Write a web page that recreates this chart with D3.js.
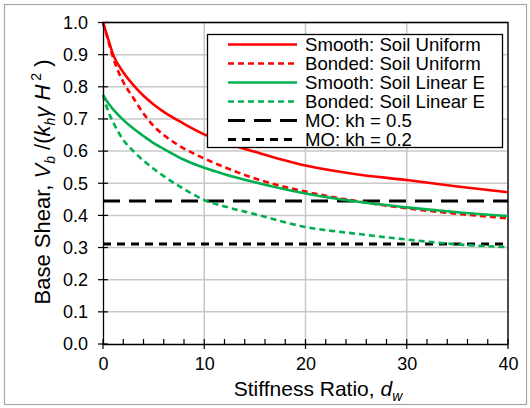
<!DOCTYPE html>
<html>
<head>
<meta charset="utf-8">
<script src="https://cdn.jsdelivr.net/npm/d3@7"></script>
<style>
  body { margin: 0; background: #fff; }
  text { font-family: "Liberation Sans", Arial, sans-serif; fill: #000; }
</style>
</head>
<body>
<div id="chart"></div>
<script>
// stiffness ratio values
var dw = [0, 0.5, 1, 2, 3, 4, 5, 6, 8, 10, 12, 15, 20, 25, 30, 35, 40];

// base shear ratios
var smoothUniform = [1.0, 0.95, 0.9, 0.845, 0.805, 0.772, 0.745, 0.722, 0.685, 0.652, 0.627, 0.598, 0.555, 0.528, 0.51, 0.49, 0.472];
var bondedUniform = [1.0, 0.945, 0.89, 0.815, 0.765, 0.717, 0.678, 0.65, 0.608, 0.577, 0.55, 0.515, 0.474, 0.445, 0.422, 0.405, 0.391];
var smoothLinear = [0.775, 0.75, 0.73, 0.697, 0.67, 0.647, 0.625, 0.607, 0.573, 0.548, 0.528, 0.503, 0.468, 0.443, 0.425, 0.41, 0.398];
var bondedLinear = [0.775, 0.725, 0.69, 0.635, 0.6, 0.57, 0.545, 0.522, 0.482, 0.448, 0.428, 0.404, 0.364, 0.343, 0.325, 0.31, 0.301];
var moValues = [0.445, 0.311];

var xTicks = [0, 10, 20, 30, 40];
var yTicks = [0, 0.1, 0.2, 0.3, 0.4, 0.5, 0.6, 0.7, 0.8, 0.9, 1.0];

var series = [
    { name: "Smooth: Soil Uniform", vals: smoothUniform, color: "#ff0000", dash: null },
    { name: "Bonded: Soil Uniform", vals: bondedUniform, color: "#ff0000", dash: "6,4" },
    { name: "Smooth: Soil Linear E", vals: smoothLinear, color: "#00b050", dash: null },
    { name: "Bonded: Soil Linear E", vals: bondedLinear, color: "#00b050", dash: "6,4" }
];
var moLines = [
    { name: "MO: kh = 0.5", val: moValues[0], dash: "17,9" },
    { name: "MO: kh = 0.2", val: moValues[1], dash: "8,6" }
];

var svg = d3.select("#chart").append("svg")
    .attr("width", 530)
    .attr("height", 408);

// outer frame
svg.append("rect")
    .attr("x", 4.5).attr("y", 4.5)
    .attr("width", 522).attr("height", 400)
    .attr("fill", "#fff")
    .attr("stroke", "#a6a6a6")
    .attr("stroke-width", 1.2);

var pLeft = 103, pRight = 508, pTop = 22.5, pBottom = 344;

var x = d3.scaleLinear().domain([0, 40]).range([pLeft, pRight]);
var y = d3.scaleLinear().domain([0, 1]).range([pBottom, pTop]);

// gridlines
svg.append("g")
    .selectAll("line")
    .data(yTicks.slice(1))
    .enter().append("line")
    .attr("x1", pLeft).attr("x2", pRight)
    .attr("y1", function(d) { return y(d); })
    .attr("y2", function(d) { return y(d); })
    .attr("stroke", "#c8c8c8")
    .attr("stroke-width", 1.5);

svg.append("g")
    .selectAll("line")
    .data(xTicks.slice(1))
    .enter().append("line")
    .attr("x1", function(d) { return x(d); })
    .attr("x2", function(d) { return x(d); })
    .attr("y1", pTop).attr("y2", pBottom)
    .attr("stroke", "#c8c8c8")
    .attr("stroke-width", 1.5);

// plot frame top/right
svg.append("path")
    .attr("d", "M" + pLeft + "," + pTop + "H" + pRight + "V" + pBottom)
    .attr("fill", "none")
    .attr("stroke", "#000")
    .attr("stroke-width", 1.3);

// MO horizontal lines
moLines.forEach(function(m) {
    svg.append("line")
        .attr("x1", x(0)).attr("x2", x(40))
        .attr("y1", y(m.val)).attr("y2", y(m.val))
        .attr("stroke", "#000")
        .attr("stroke-width", 3)
        .attr("stroke-dasharray", m.dash);
});

var line = d3.line()
    .x(function(d, i) { return x(dw[i]); })
    .y(function(d) { return y(d); })
    .curve(d3.curveMonotoneX);

series.forEach(function(s) {
    svg.append("path")
        .datum(s.vals)
        .attr("d", line)
        .attr("fill", "none")
        .attr("stroke", s.color)
        .attr("stroke-width", 2.6)
        .attr("stroke-dasharray", s.dash);
});

// axes
var xAxis = d3.axisBottom(x).tickValues(xTicks).tickFormat(d3.format("d")).tickSize(0).tickPadding(13);
var gx = svg.append("g").attr("transform", "translate(0," + pBottom + ")").call(xAxis);
gx.select(".domain").attr("stroke", "#000").attr("stroke-width", 1.3);
gx.selectAll("text").style("font-size", "18px").style("font-family", "Liberation Sans, Arial, sans-serif");

// x ticks: minor every 2 inside, major crossing
d3.range(0, 41, 2).forEach(function(d) {
    var major = d % 10 === 0;
    svg.append("line")
        .attr("x1", x(d)).attr("x2", x(d))
        .attr("y1", pBottom - 5).attr("y2", major ? pBottom + 5 : pBottom)
        .attr("stroke", "#000").attr("stroke-width", 1.2);
});

var yAxis = d3.axisLeft(y).tickValues(yTicks).tickFormat(d3.format(".1f")).tickSize(0).tickPadding(15);
var gy = svg.append("g").attr("transform", "translate(" + pLeft + ",0)").call(yAxis);
gy.select(".domain").attr("stroke", "#000").attr("stroke-width", 1.3);
gy.selectAll("text").style("font-size", "18px").style("font-family", "Liberation Sans, Arial, sans-serif");

yTicks.forEach(function(d) {
    svg.append("line")
        .attr("x1", pLeft - 5).attr("x2", pLeft + 5)
        .attr("y1", y(d)).attr("y2", y(d))
        .attr("stroke", "#000").attr("stroke-width", 1.2);
});

// axis titles
var xt = svg.append("text")
    .attr("x", 318).attr("y", 396)
    .attr("text-anchor", "middle")
    .style("font-size", "21px");
xt.append("tspan").text("Stiffness Ratio, ");
xt.append("tspan").style("font-style", "italic").text("d");
xt.append("tspan").style("font-style", "italic").style("font-size", "14px").attr("dy", 5).text("w");

var yt = svg.append("text")
    .attr("transform", "translate(50,182) rotate(-90)")
    .attr("text-anchor", "middle")
    .style("font-size", "22px");
yt.append("tspan").text("Base Shear,  ");
yt.append("tspan").style("font-style", "italic").text("V");
yt.append("tspan").style("font-style", "italic").style("font-size", "14px").attr("dy", 5).text("b");
yt.append("tspan").attr("dy", -5).text(" /(");
yt.append("tspan").style("font-style", "italic").text("k");
yt.append("tspan").style("font-style", "italic").style("font-size", "14px").attr("dy", 5).text("h");
yt.append("tspan").style("font-style", "italic").attr("dy", -5).text("\u03b3 H");
yt.append("tspan").style("font-size", "14px").attr("dy", -9).text("\u00a02");
yt.append("tspan").attr("dy", 9).text("\u00a0)");

// legend
var lg = svg.append("g");
lg.append("rect")
    .attr("x", 207.5).attr("y", 34.5)
    .attr("width", 295).attr("height", 113)
    .attr("fill", "#fff")
    .attr("stroke", "#000")
    .attr("stroke-width", 1.3);

var legendItems = series.map(function(s) {
    return { name: s.name, color: s.color, dash: s.dash, w: 2.6 };
}).concat(moLines.map(function(m) {
    return { name: m.name, color: "#000", dash: m.dash, w: 3 };
}));

legendItems.forEach(function(it, i) {
    var ly = 44.5 + i * 19;
    lg.append("line")
        .attr("x1", 228).attr("x2", 297)
        .attr("y1", ly).attr("y2", ly)
        .attr("stroke", it.color)
        .attr("stroke-width", it.w)
        .attr("stroke-dasharray", it.dash);
    lg.append("text")
        .attr("x", 305).attr("y", ly + 6.5)
        .style("font-size", "18.6px")
        .text(it.name);
});
</script>
</body>
</html>
